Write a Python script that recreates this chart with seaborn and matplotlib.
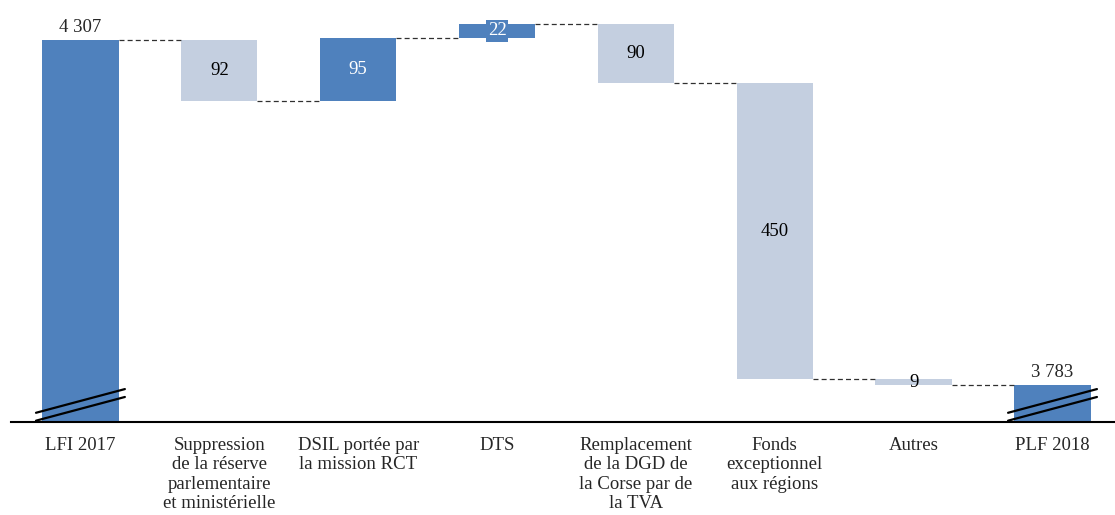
import numpy as np
import matplotlib
matplotlib.use("Agg")
import matplotlib.pyplot as plt
import seaborn as sns

# waterfall data (M€)
categories = ["LFI 2017",
              "Suppression\nde la réserve\nparlementaire\net ministérielle",
              "DSIL portée par\nla mission RCT",
              "DTS",
              "Remplacement\nde la DGD de\nla Corse par de\nla TVA",
              "Fonds\nexceptionnel\naux régions",
              "Autres",
              "PLF 2018"]
values = [4307, -92, 95, 22, -90, -450, -9, 3783]
is_total = [True, False, False, False, False, False, False, True]
value_labels = ["4 307", "92", "95", "22", "90", "450", "9", "3 783"]

dark = "#4F81BD"
light = "#C4CFE0"

sns.set_style("white")
plt.rcParams["font.family"] = ["Liberation Serif", "DejaVu Serif"]

# bottoms / tops of each floating bar
bottoms, tops, levels = [], [], []
running = 0
for v, tot in zip(values, is_total):
    if tot:
        bottoms.append(0)
        tops.append(v)
        running = v
    else:
        new = running + v
        bottoms.append(min(running, new))
        tops.append(max(running, new))
        running = new
    levels.append(running)

colors = [dark if (tot or v > 0) else light for v, tot in zip(values, is_total)]

fig = plt.figure(figsize=(11.15, 5.15), dpi=100)
ax = fig.add_axes([11 / 1115, 93 / 515, 1 - 11 / 1115, 1 - 93 / 515])

w = 0.55
sns.barplot(x=categories, y=tops, hue=categories, palette=colors, legend=False,
            width=w, saturation=1, ax=ax, order=categories, hue_order=categories)

patches = sorted(ax.patches, key=lambda p: p.get_x())
for p, b, t in zip(patches, bottoms, tops):
    p.set_y(b)
    p.set_height(t - b)
    p.set_linewidth(0)

ylo, yhi = 3727, 4368
ax.set_ylim(ylo, yhi)
ax.set_xlim(-0.5, 7.45)

# connectors
for i in range(len(values) - 1):
    ax.plot([i + w / 2, i + 1 - w / 2], [levels[i], levels[i]],
            ls=(0, (4, 2.5)), color="#303030", lw=0.9)

# labels
for i, (v, tot) in enumerate(zip(values, is_total)):
    if tot:
        ax.text(i, tops[i] + 6, value_labels[i], ha="center", va="bottom", fontsize=13.5)
    else:
        mid = (bottoms[i] + tops[i]) / 2
        if colors[i] == dark:
            bbox = dict(facecolor=dark, edgecolor="none", pad=1.5) if tops[i] - bottoms[i] < 40 else None
            ax.text(i, mid, value_labels[i], ha="center", va="center", fontsize=13.5,
                    color="white", bbox=bbox)
        else:
            ax.text(i, mid, value_labels[i], ha="center", va="center", fontsize=13.5,
                    color="black")

# axis break marks on the totals
for i in [0, 7]:
    xs = np.array([i - 0.32, i + 0.32])
    ax.plot(xs, [ylo + 14, ylo + 50], color="black", lw=1.6, clip_on=False)
    ax.plot(xs, [ylo + 2, ylo + 38], color="black", lw=1.6, clip_on=False)

for s in ["left", "top", "right"]:
    ax.spines[s].set_visible(False)
ax.spines["bottom"].set_color("black")
ax.spines["bottom"].set_linewidth(1.5)
ax.set_yticks([])
ax.set_ylabel("")
ax.tick_params(axis="x", length=0, pad=11, labelsize=13.5)
for lab in ax.get_xticklabels():
    lab.set_linespacing(1.17)
    lab.set_va("top")

fig.savefig("out.png", dpi=100)
